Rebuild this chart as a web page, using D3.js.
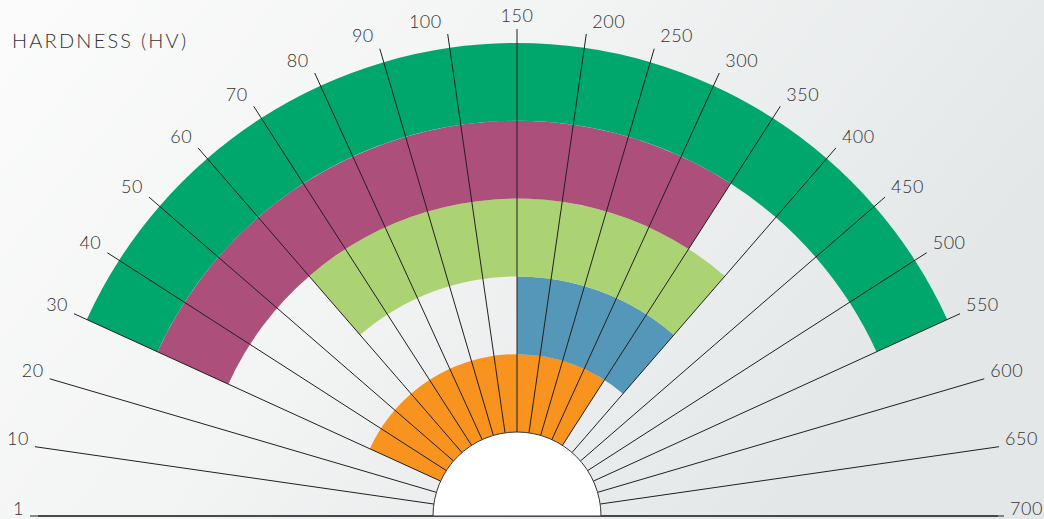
<!DOCTYPE html>
<html>
<head>
<meta charset="utf-8">
<script src="https://cdn.jsdelivr.net/npm/d3@7"></script>
<style>
  html, body { margin: 0; padding: 0; }
  body { width: 1044px; height: 519px; overflow: hidden; }
  text { font-family: Lato, "Open Sans", sans-serif; font-weight: 300; fill: #333; }
</style>
</head>
<body>
<svg id="chart"></svg>
<script>
// hardness scale, one ray per value
const ticks = ["1", "10", "20", "30", "40", "50", "60", "70", "80", "90", "100", "150",
  "200", "250", "300", "350", "400", "450", "500", "550", "600", "650", "700"];

// bands, inner ring first
const bandFrom = ["30", "150", "60", "30", "30"];
const bandTo = ["350", "400", "400", "350", "550"];
const bandColors = ["#f7931e", "#5597b8", "#abd373", "#ad4f7b", "#00a76d"];

const width = 1044;
const height = 519;
const cx = 517, cy = 516;
const innerR = 84, outerR = 473, rayR = 487;

const svg = d3.select("#chart")
  .attr("width", width)
  .attr("height", height);

// cloudy grey background
const defs = svg.append("defs");
const grad = defs.append("linearGradient")
  .attr("id", "sky")
  .attr("x1", "0").attr("y1", "0")
  .attr("x2", "1").attr("y2", "0.4");
grad.append("stop").attr("offset", "0").attr("stop-color", "#fbfbfb");
grad.append("stop").attr("offset", "0.45").attr("stop-color", "#f3f4f4");
grad.append("stop").attr("offset", "1").attr("stop-color", "#e3e7e8");

svg.append("rect")
  .attr("width", width)
  .attr("height", height)
  .attr("fill", "url(#sky)");

const angle = d3.scalePoint()
  .domain(ticks)
  .range([-Math.PI / 2, Math.PI / 2]);

const ring = d3.scaleBand()
  .domain(d3.range(bandColors.length))
  .range([innerR, outerR]);

const g = svg.append("g")
  .attr("transform", `translate(${cx},${cy})`);

const arc = d3.arc()
  .innerRadius(i => ring(i))
  .outerRadius(i => ring(i) + ring.bandwidth())
  .startAngle(i => angle(bandFrom[i]))
  .endAngle(i => angle(bandTo[i]));

g.append("g")
  .selectAll("path")
  .data(d3.range(bandColors.length))
  .join("path")
  .attr("d", arc)
  .attr("fill", i => bandColors[i]);

const point = (a, r) => [r * Math.sin(a), -r * Math.cos(a)];

g.append("g")
  .attr("stroke", "#231f20")
  .attr("stroke-width", 1)
  .selectAll("line")
  .data(ticks)
  .join("line")
  .attr("x1", d => point(angle(d), innerR)[0])
  .attr("y1", d => point(angle(d), innerR)[1])
  .attr("x2", d => point(angle(d), rayR)[0])
  .attr("y2", d => point(angle(d), rayR)[1]);

// base line
g.append("line")
  .attr("x1", point(angle(ticks[0]), 479)[0])
  .attr("x2", point(angle(ticks[ticks.length - 1]), 481)[0])
  .attr("y1", 0).attr("y2", 0)
  .attr("stroke", "#333")
  .attr("stroke-width", 1.5);

// white hub
g.append("path")
  .attr("d", d3.arc()({ innerRadius: 0, outerRadius: innerR, startAngle: -Math.PI / 2, endAngle: Math.PI / 2 }))
  .attr("fill", "#fff")
  .attr("stroke", "#333")
  .attr("stroke-width", 1);

g.append("g")
  .selectAll("text")
  .data(ticks)
  .join("text")
  .attr("font-size", 18)
  .attr("letter-spacing", 0.5)
  .attr("dominant-baseline", "middle")
  .attr("text-anchor", d => {
    const s = Math.sin(angle(d));
    return Math.abs(s) < 0.01 ? "middle" : s < 0 ? "end" : "start";
  })
  .attr("x", d => {
    const a = angle(d);
    const s = Math.abs(Math.sin(a)) < 0.01 ? 0 : Math.sign(Math.sin(a));
    return point(a, rayR)[0] + s * 6;
  })
  .attr("y", d => {
    const a = angle(d);
    return point(a, rayR)[1] - 5 - 6 * Math.cos(a);
  })
  .text(d => d);

svg.append("text")
  .attr("x", 12)
  .attr("y", 48)
  .attr("font-size", 20)
  .attr("letter-spacing", 2.2)
  .text("HARDNESS (HV)");
</script>
</body>
</html>
